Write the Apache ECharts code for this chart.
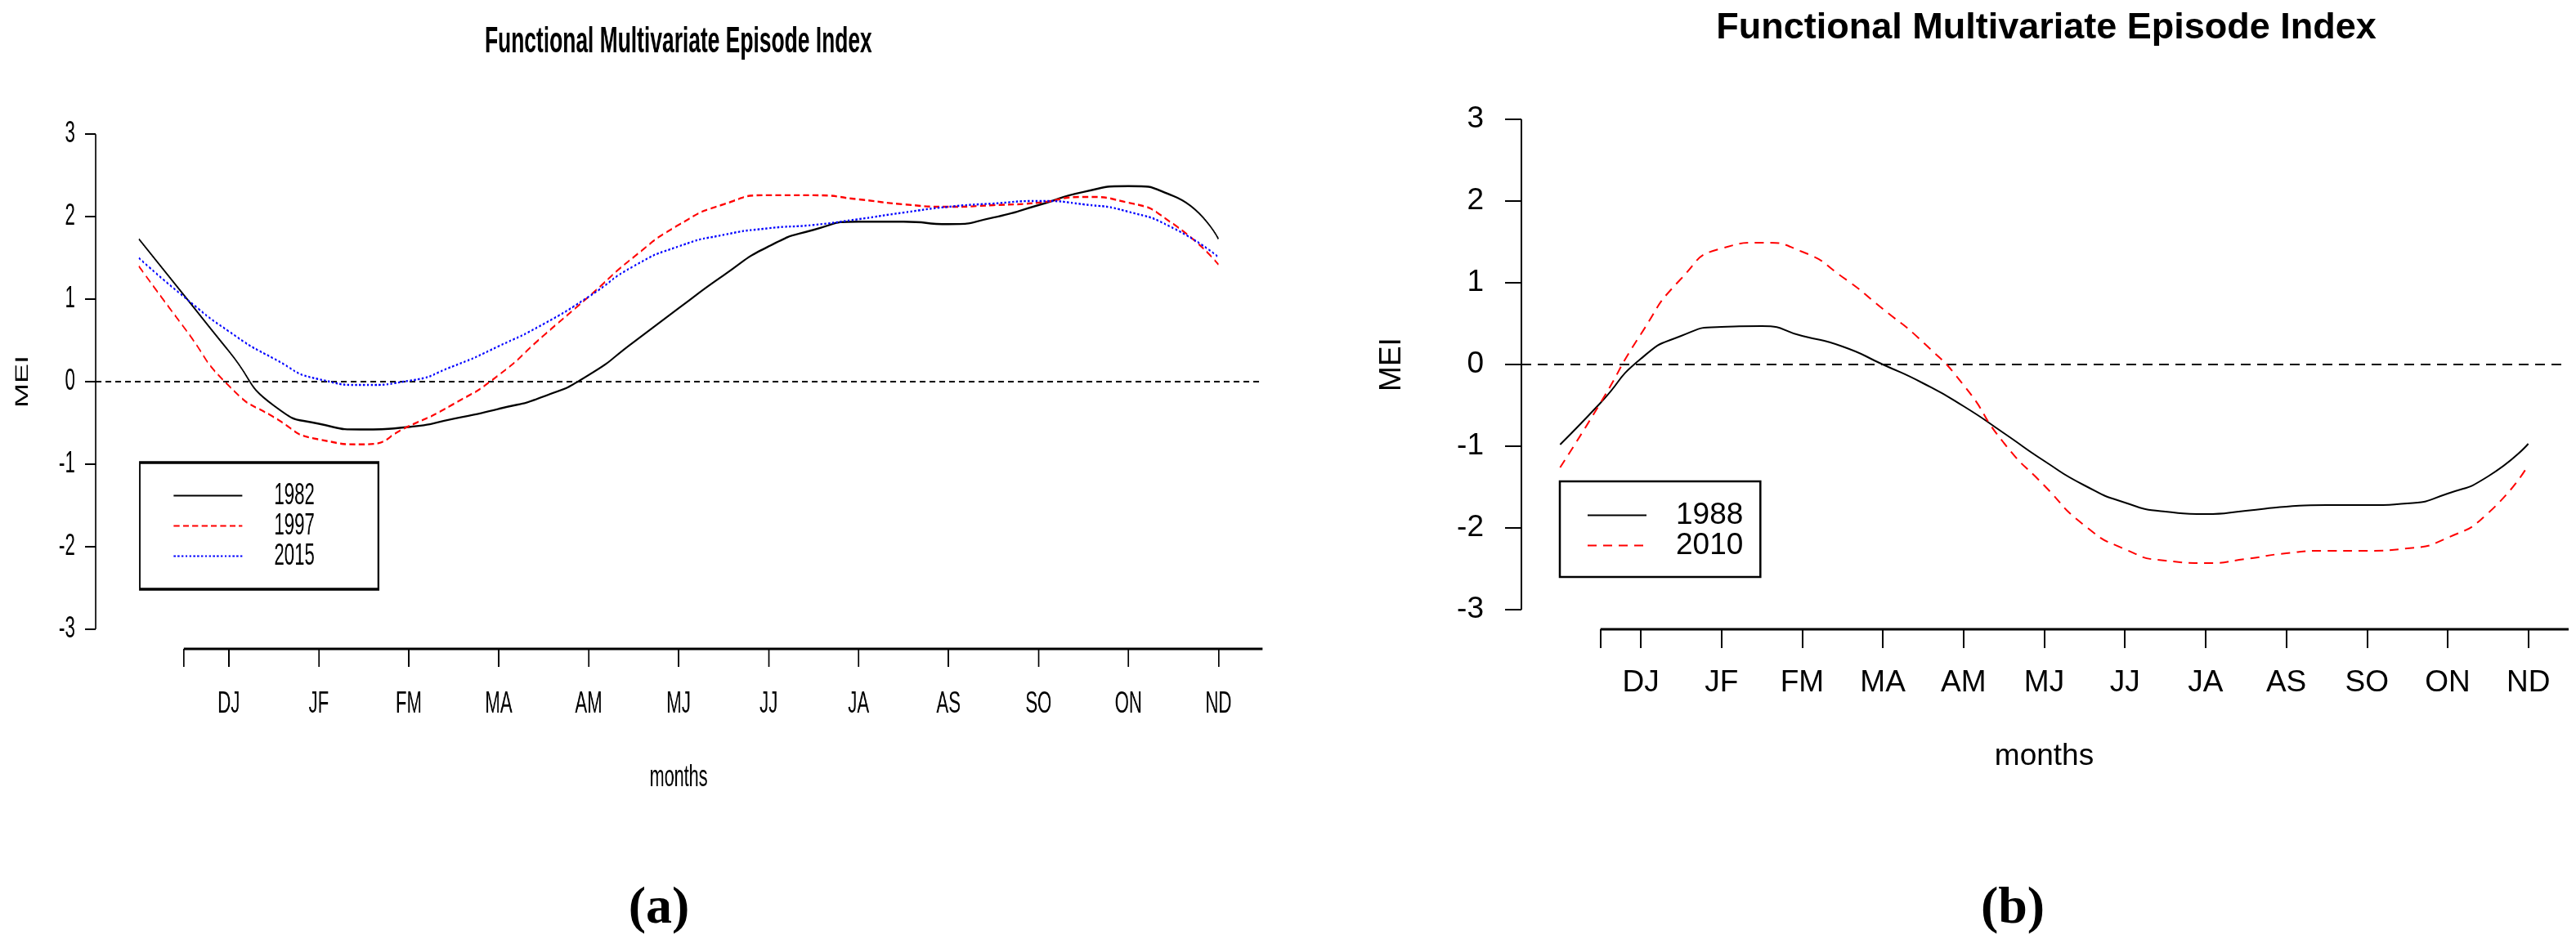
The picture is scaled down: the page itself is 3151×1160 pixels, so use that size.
<!DOCTYPE html>
<html><head><meta charset="utf-8">
<script src="https://cdn.jsdelivr.net/npm/echarts@6/dist/echarts.min.js"></script>
<style>
html,body{margin:0;padding:0;background:#fff;width:3151px;height:1160px;overflow:hidden}
#right{position:absolute;left:0;top:0;width:3151px;height:1160px}
#left{position:absolute;left:0;top:0;width:2667px;height:1160px;transform:scaleX(0.6);transform-origin:0 0}
</style></head><body>
<div id="right"></div><div id="left"></div>
<script>
// ---------- data ----------
const chartTitle = 'Functional Multivariate Episode Index';
const monthLabels = ['DJ','JF','FM','MA','AM','MJ','JJ','JA','AS','SO','ON','ND'];
const labelPositions = [1,2,3,4,5,6,7,8,9,10,11,12];
const tickPositions = [0.5,1,2,3,4,5,6,7,8,9,10,11,12];
const xAxisEnd = 12.5;
const xRange = [-0.48, 12.48];
const yRange = [-3.24, 3.24];
const yTicks = [-3,-2,-1,0,1,2,3];
const xSample = [0,0.5,1,1.5,2,2.5,3,3.5,4,4.5,5,5.5,6,6.5,7,7.5,8,8.5,9,9.5,10,10.5,11,11.5,12];
// panel (a)
const mei1982 = [1.73,1.05,0.37,-0.29,-0.51,-0.58,-0.55,-0.45,-0.33,-0.18,0.08,0.48,0.89,1.29,1.64,1.84,1.94,1.94,1.91,1.99,2.14,2.30,2.37,2.25,1.73];
const mei1997 = [1.40,0.66,-0.05,-0.43,-0.70,-0.76,-0.54,-0.27,0.08,0.56,1.03,1.51,1.90,2.15,2.26,2.26,2.21,2.15,2.12,2.14,2.17,2.24,2.17,1.91,1.42];
const mei2015 = [1.50,1.03,0.61,0.28,0.03,-0.04,0.01,0.19,0.43,0.70,1.03,1.40,1.64,1.78,1.86,1.90,1.97,2.05,2.12,2.16,2.19,2.15,2.06,1.86,1.51];
// panel (b)
const mei1988 = [-0.98,-0.47,0.07,0.35,0.46,0.47,0.35,0.22,0.00,-0.23,-0.51,-0.84,-1.18,-1.48,-1.69,-1.80,-1.83,-1.79,-1.74,-1.72,-1.72,-1.70,-1.58,-1.37,-0.97];
const mei2010 = [-1.26,-0.47,0.37,1.05,1.42,1.49,1.38,1.07,0.68,0.27,-0.25,-0.96,-1.48,-1.97,-2.26,-2.40,-2.43,-2.38,-2.31,-2.28,-2.28,-2.25,-2.12,-1.82,-1.23];

const FONT = '"Liberation Sans", Arial, sans-serif';

function buildOption(p){
  const series = p.lines.map(l => ({
    name: l.name, type: 'line', smooth: 0.6, symbol: 'none', clip: false, z: 4,
    data: xSample.map((x, i) => [x, l.values[i]]),
    lineStyle: { color: l.color, width: p.lw, type: l.dash },
    itemStyle: { color: l.color }
  }));
  series.push({ type: 'line', name: '_y', symbol: 'none', clip: false, silent: true, z: 3,
    data: [[xRange[0], yTicks[0]], [xRange[0], yTicks[yTicks.length - 1]]],
    lineStyle: { color: '#000', width: p.yAxisW } });
  series.push({ type: 'line', name: '_x', symbol: 'none', clip: false, silent: true, z: 3,
    data: [[tickPositions[0], yRange[0]], [xAxisEnd, yRange[0]]],
    lineStyle: { color: '#000', width: p.xAxisW } });
  series.push({ type: 'line', name: '_zero', symbol: 'none', clip: false, silent: true, z: 3,
    data: [[xRange[0], 0], [xRange[1], 0]],
    lineStyle: { color: '#000', width: 2, type: p.zeroDash } });
  return {
    animation: false,
    title: { text: chartTitle, left: p.titleX, top: p.titleTop, textAlign: 'center', padding: 0,
      textStyle: { fontFamily: FONT, fontWeight: 'bold', fontSize: p.titleSize, color: '#000' } },
    grid: { left: p.grid.left, right: p.grid.right, top: p.grid.top, bottom: p.grid.bottom },
    legend: {
      data: p.lines.map(l => l.name), orient: 'vertical', left: p.legend.left, top: p.legend.top,
      padding: p.legend.padding, itemWidth: p.legend.itemWidth, itemHeight: p.legend.itemHeight, itemGap: 0,
      borderColor: '#000', borderWidth: p.legend.border, borderRadius: 0, selectedMode: false,
      itemStyle: { color: 'rgba(0,0,0,0)', borderColor: 'rgba(0,0,0,0)', borderWidth: 0, opacity: 0 },
      textStyle: { fontFamily: FONT, fontSize: p.fs, color: '#000', padding: [0, 0, 0, p.legend.textGap] }
    },
    xAxis: {
      type: 'value', min: xRange[0], max: xRange[1],
      axisLine: { show: false, onZero: false }, splitLine: { show: false },
      axisTick: { show: true, customValues: tickPositions, length: p.xTickLen, lineStyle: { color: '#000', width: p.xTickW } },
      axisLabel: { customValues: labelPositions, formatter: v => monthLabels[Math.round(v) - 1],
        margin: p.xLabelMargin, fontFamily: FONT, fontSize: p.fs, color: '#000' },
      name: 'months', nameLocation: 'middle', nameGap: p.xNameGap,
      nameTextStyle: { fontFamily: FONT, fontSize: p.nameFs, color: '#000' }
    },
    yAxis: {
      type: 'value', min: yRange[0], max: yRange[1],
      axisLine: { show: false, onZero: false }, splitLine: { show: false },
      axisTick: { show: true, customValues: yTicks, length: p.yTickLen, lineStyle: { color: '#000', width: 2 } },
      axisLabel: { customValues: yTicks, margin: p.yLabelMargin, fontFamily: FONT, fontSize: p.fs, color: '#000' },
      name: 'MEI', nameLocation: 'middle', nameRotate: 90, nameGap: p.yNameGap,
      nameTextStyle: { fontFamily: FONT, fontSize: p.nameFs, color: '#000' }
    },
    graphic: p.graphic || [],
    series: series
  };
}

const rightChart = echarts.init(document.getElementById('right'));
rightChart.setOption(buildOption({
  lines: [
    { name: '1988', values: mei1988, color: '#000000', dash: 'solid' },
    { name: '2010', values: mei2010, color: '#ff0000', dash: [11, 8] }
  ],
  lw: 2, yAxisW: 2, xAxisW: 3, xTickW: 2, zeroDash: [12, 8],
  titleX: 2503, titleTop: 12, titleSize: 45,
  grid: { left: 1861, right: 11, top: 122, bottom: 390 },
  legend: { left: 1908, top: 589, padding: [23, 21, 20, 33], itemWidth: 72, itemHeight: 43, textGap: 31, border: 2.5 },
  fs: 37, nameFs: 37,
  xTickLen: 23, yTickLen: 20, xLabelMargin: 47, yLabelMargin: 46, xNameGap: 137, yNameGap: 140,
  graphic: [
    { type: 'text', x: 806, y: 1112, style: { text: '(a)', font: 'bold 64px "Liberation Serif", "Times New Roman", serif', fill: '#000', textAlign: 'center', textVerticalAlign: 'middle' } },
    { type: 'text', x: 2462, y: 1112, style: { text: '(b)', font: 'bold 64px "Liberation Serif", "Times New Roman", serif', fill: '#000', textAlign: 'center', textVerticalAlign: 'middle' } }
  ]
}));

const leftChart = echarts.init(document.getElementById('left'));
leftChart.setOption(buildOption({
  lines: [
    { name: '1982', values: mei1982, color: '#000000', dash: 'solid' },
    { name: '1997', values: mei1997, color: '#ff0000', dash: [12, 7] },
    { name: '2015', values: mei2015, color: '#0000ff', dash: [4, 4] }
  ],
  lw: 2.4, yAxisW: 3, xAxisW: 3, xTickW: 3, zeroDash: [12, 8],
  titleX: 1383, titleTop: 30, titleSize: 44,
  grid: { left: 195, right: 95, top: 140, bottom: 366 },
  legend: { left: 285, top: 566, padding: [22, 130, 22, 68], itemWidth: 140, itemHeight: 44, textGap: 60, border: 3.5 },
  fs: 37, nameFs: 36,
  xTickLen: 22, yTickLen: 22, xLabelMargin: 49, yLabelMargin: 42, xNameGap: 140, yNameGap: 130
}));
</script>
</body></html>
